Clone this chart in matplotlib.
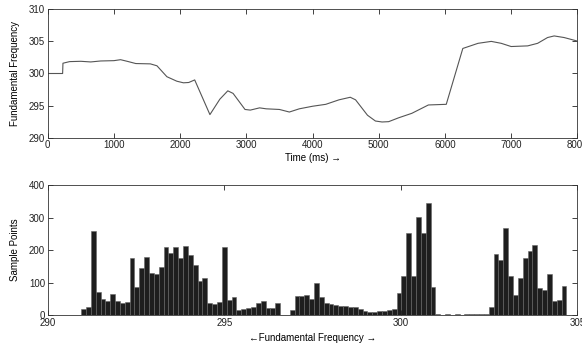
"""
Pitch contour and pitch histogram (MATLAB-style two-panel figure)
"""
import numpy as np
import matplotlib
matplotlib.use('Agg')
import matplotlib.pyplot as plt

plt.rcParams['font.family'] = ['Liberation Sans', 'DejaVu Sans']
plt.rcParams['font.size'] = 7

# top panel: fundamental frequency over time
time_ms = [0, 225, 230, 330, 500, 650, 800, 1000, 1100, 1200, 1330, 1550, 1650,
           1800, 1950, 2050, 2130, 2220, 2450, 2600, 2720, 2800, 2980, 3060,
           3200, 3300, 3500, 3650, 3800, 4000, 4200, 4400, 4570, 4650, 4830,
           4950, 5050, 5150, 5300, 5500, 5750, 6020, 6270, 6500, 6700, 6850,
           7000, 7250, 7400, 7550, 7650, 7800, 8000]
freq_hz = [300.0, 300.0, 301.6, 301.85, 301.9, 301.8, 301.95, 302.0, 302.15,
           301.9, 301.55, 301.5, 301.2, 299.5, 298.8, 298.55, 298.6, 299.0,
           293.6, 296.0, 297.3, 296.9, 294.4, 294.3, 294.65, 294.5, 294.4,
           294.0, 294.5, 294.9, 295.2, 295.9, 296.3, 295.9, 293.5, 292.6,
           292.45, 292.5, 293.1, 293.8, 295.1, 295.2, 303.9, 304.7, 305.0,
           304.7, 304.2, 304.3, 304.7, 305.6, 305.85, 305.6, 305.05]

# bottom panel: histogram counts, 100 bins
hist_lo, hist_hi = 290.945, 304.69
hist_counts = [17, 26, 260, 70, 50, 43, 65, 43, 36, 40,
               175, 85, 145, 178, 130, 127, 148, 208, 192, 208,
               176, 211, 186, 153, 106, 113, 38, 34, 40, 208,
               46, 55, 16, 18, 22, 26, 36, 43, 23, 23,
               38, 0, 0, 16, 60, 60, 63, 48, 97, 55,
               36, 33, 31, 28, 28, 25, 25, 17, 12, 9,
               9, 12, 12, 15, 18, 69, 120, 251, 120, 302,
               251, 345, 85, 2, 0, 2, 0, 2, 0, 2,
               2, 2, 2, 2, 26, 188, 169, 268, 120, 63,
               115, 176, 196, 214, 84, 77, 125, 43, 45, 90]


def style_axes(ax):
    """MATLAB 风格：刻度朝内，四边都有刻度"""
    ax.tick_params(direction='in', length=3.5, width=0.6, top=True, right=True,
                   pad=2, labelsize=7, colors='#222222')
    for sp in ax.spines.values():
        sp.set_linewidth(0.6)
        sp.set_color('#333333')


fig = plt.figure(figsize=(5.82, 3.49), dpi=100)

ax1 = fig.add_axes([0.082, 0.6054, 0.910, 0.368])
ax1.plot(time_ms, freq_hz, color='#555555', lw=0.8)
ax1.set_xlim(0, 8000)
ax1.set_ylim(290, 310)
ax1.set_xticks(range(0, 8001, 1000))
ax1.set_yticks(range(290, 311, 5))
ax1.set_xlabel('Time (ms) \u2192', labelpad=2)
ax1.set_ylabel('Fundamental Frequency', labelpad=6)
style_axes(ax1)

ax2 = fig.add_axes([0.082, 0.0974, 0.910, 0.3725])
edges = np.linspace(hist_lo, hist_hi, len(hist_counts) + 1)
ax2.bar(edges[:-1], hist_counts, width=np.diff(edges), align='edge',
        color='#1e1e1e', edgecolor='#666666', linewidth=0.4)
ax2.set_xlim(290, 305)
ax2.set_ylim(0, 400)
ax2.set_xticks([290, 295, 300, 305])
ax2.set_yticks(range(0, 401, 100))
ax2.set_xlabel('\u2190Fundamental Frequency \u2192', labelpad=4)
ax2.set_ylabel('Sample Points', labelpad=6)
style_axes(ax2)

fig.savefig('out.png', dpi=100)
plt.close(fig)
